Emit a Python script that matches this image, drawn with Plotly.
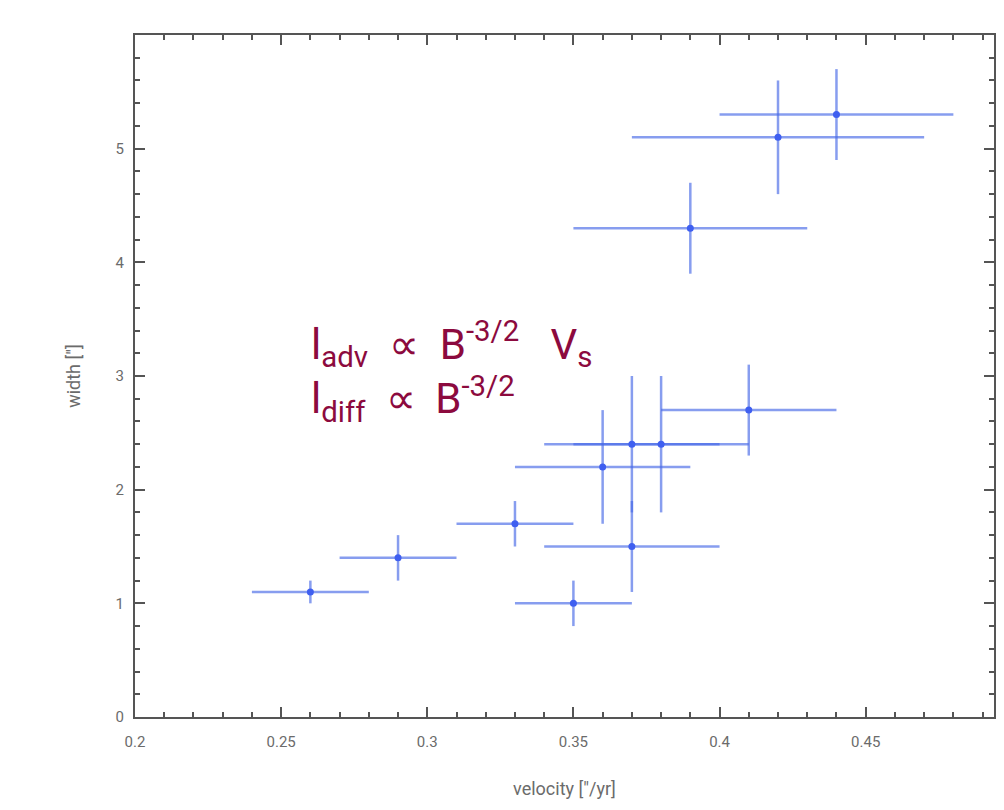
import plotly.graph_objects as go

velocity = [0.26, 0.29, 0.33, 0.35, 0.37, 0.36, 0.37, 0.38, 0.41, 0.39, 0.42, 0.44]
velocity_err = [0.02, 0.02, 0.02, 0.02, 0.03, 0.03, 0.03, 0.03, 0.03, 0.04, 0.05, 0.04]
width = [1.1, 1.4, 1.7, 1.0, 1.5, 2.2, 2.4, 2.4, 2.7, 4.3, 5.1, 5.3]
width_err = [0.1, 0.2, 0.2, 0.2, 0.4, 0.5, 0.6, 0.6, 0.4, 0.4, 0.5, 0.4]

x_ticks = [0.2, 0.25, 0.3, 0.35, 0.4, 0.45]
x_labels = ["0.2", "0.25", "0.3", "0.35", "0.4", "0.45"]
y_ticks = [0, 1, 2, 3, 4, 5]

AXIS_COLOR = "#555555"
TEXT_COLOR = "#6b6b6b"
BAR_COLOR = "rgba(70,105,230,0.65)"
LABEL_COLOR = "#8c0a3e"

fig = go.Figure()
fig.add_trace(
    go.Scatter(
        x=velocity,
        y=width,
        mode="markers",
        marker=dict(color="#3f5ff0", size=7),
        error_x=dict(type="data", array=velocity_err, color=BAR_COLOR, thickness=2.5, width=0),
        error_y=dict(type="data", array=width_err, color=BAR_COLOR, thickness=2.5, width=0),
        showlegend=False,
    )
)

axis_style = dict(
    showline=True,
    linecolor=AXIS_COLOR,
    linewidth=2,
    mirror="allticks",
    ticks="inside",
    ticklen=10,
    tickwidth=1.5,
    tickcolor=AXIS_COLOR,
    showgrid=False,
    zeroline=False,
    tickfont=dict(family="Roboto", size=15, color=TEXT_COLOR),
)

# the page has an 8px body margin, so the figure is sized to fit the window
fig.update_xaxes(
    range=[0.2, 0.4939],
    tickvals=x_ticks,
    ticktext=x_labels,
    ticklabelstandoff=10,
    minor=dict(dtick=0.01, ticks="inside", ticklen=5, tickcolor=AXIS_COLOR, showgrid=False),
    title=dict(text='velocity ["/yr]', font=dict(family="Roboto", size=18, color=TEXT_COLOR), standoff=32),
    **axis_style,
)
fig.update_yaxes(
    range=[0, 6],
    tickvals=y_ticks,
    ticklabelstandoff=6,
    minor=dict(dtick=0.2, ticks="inside", ticklen=5, tickcolor=AXIS_COLOR, showgrid=False),
    title=dict(text='width ["]', font=dict(family="Roboto", size=18, color=TEXT_COLOR), standoff=30),
    **axis_style,
)

fig.add_annotation(
    x=0.2, y=3.0, xref="x", yref="y",
    xshift=174, yshift=5,
    xanchor="left", yanchor="middle", align="left",
    showarrow=False,
    text=(
        "l<sub>adv</sub>  ∝  B<sup>-3/2</sup>   V<sub>s</sub><br>"
        "l<sub>diff</sub>  ∝ \u200a\u200aB<sup>-3/2</sup>"
    ),
    font=dict(family="Roboto", size=42, color=LABEL_COLOR),
)

fig.update_layout(
    width=988,
    height=794,
    margin=dict(l=127, r=0, t=27, b=85),
    paper_bgcolor="white",
    plot_bgcolor="white",
    font=dict(family="Roboto"),
)

fig.write_html("out.html")
